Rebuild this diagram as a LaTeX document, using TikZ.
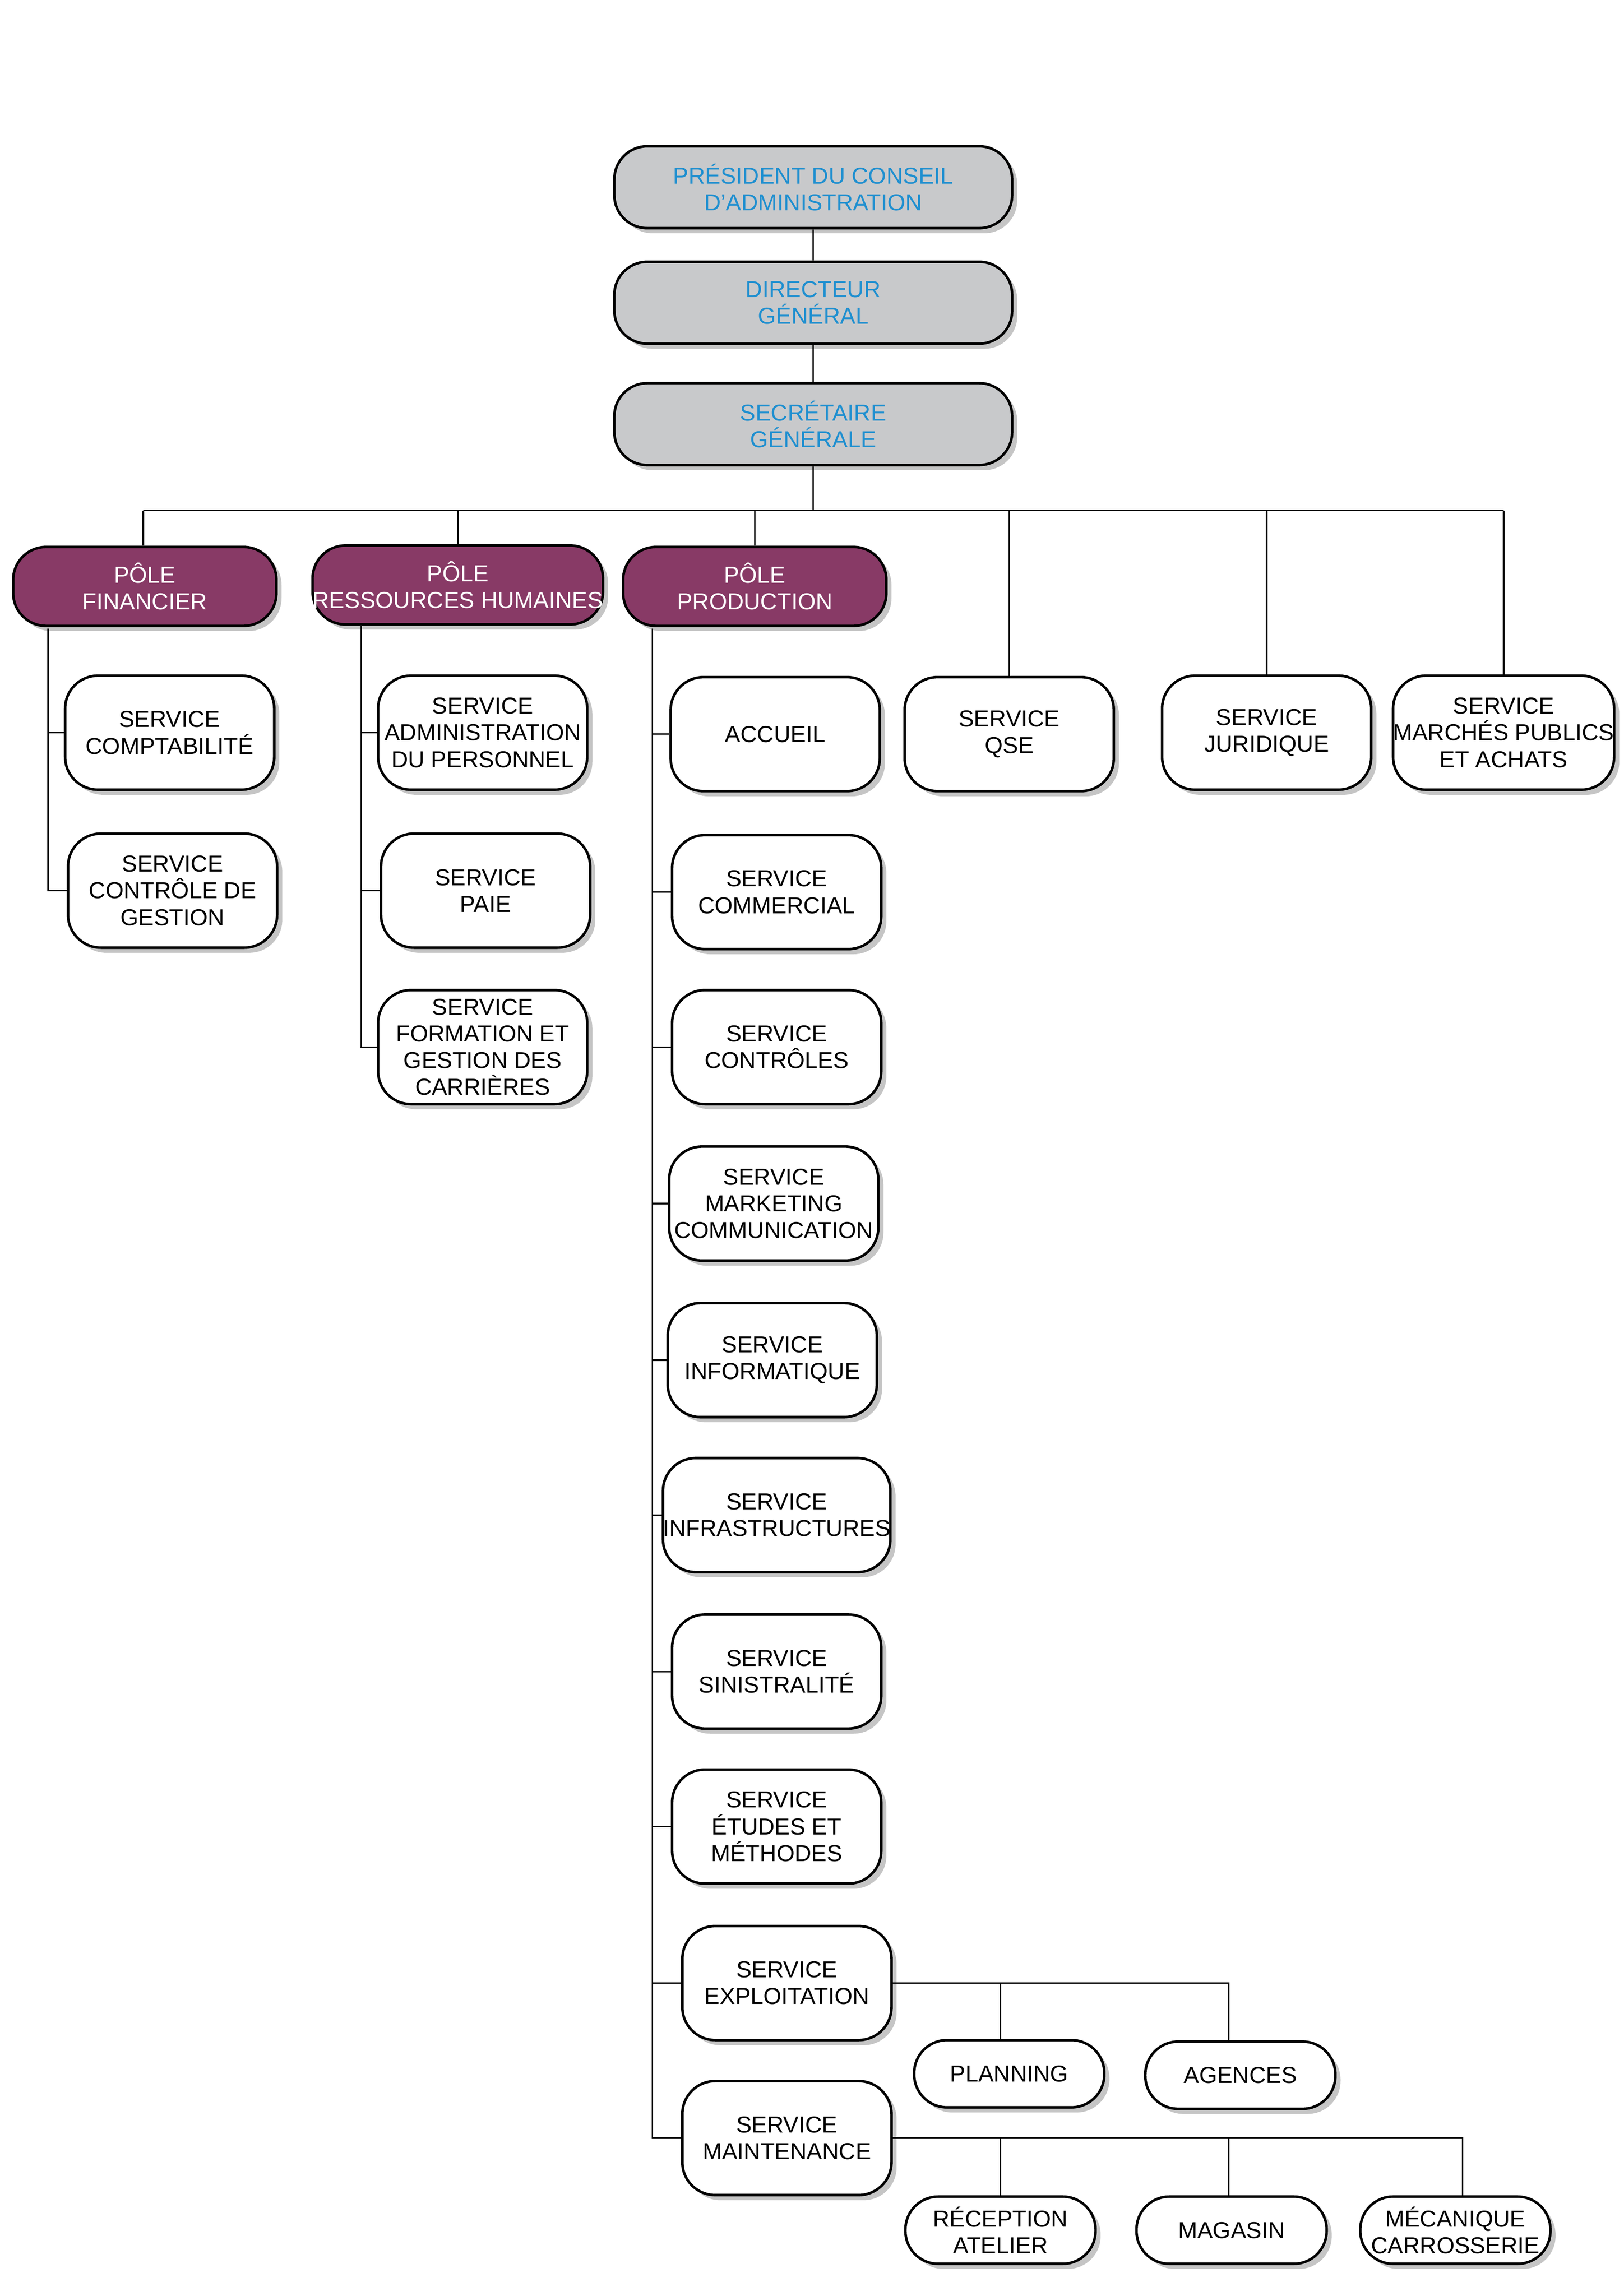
\documentclass[tikz,border=0pt]{standalone}
\usepackage{fontspec}
\setmainfont{Liberation Sans}
\usetikzlibrary{shadows}
\definecolor{poleviolet}{HTML}{883A66}
\definecolor{topblue}{HTML}{1E8FD0}
\definecolor{topgray}{HTML}{C8C9CB}
\begin{document}
\begin{tikzpicture}
    [
      x=0.02cm, y=-0.02cm,
      box/.style={draw=black, line width=1pt, rounded corners=0.45cm, align=center,
        font=\fontsize{9}{10.4}\selectfont, inner sep=0pt,
        drop shadow={shadow xshift=0.07cm, shadow yshift=-0.07cm, fill=black!45}},
      top/.style={box, fill=topgray, text=topblue, minimum width=5.44cm, minimum height=1.12cm},
      pole/.style={box, fill=poleviolet, text=white, minimum width=3.6cm, minimum height=1.08cm},
      serv/.style={box, fill=white, minimum width=2.86cm, minimum height=1.56cm},
      small/.style={box, fill=white, minimum width=2.6cm, minimum height=0.92cm},
      link/.style={line width=0.6pt}
    ]
    \useasboundingbox (0,0) rectangle (1110,1570);
    % direction
    \node [top] (pdg) at (556,128) {PRÉSIDENT DU CONSEIL\\D’ADMINISTRATION};
    \node [top] (dg) at (556,207) {DIRECTEUR\\GÉNÉRAL};
    \node [top] (sg) at (556,290) {SECRÉTAIRE\\GÉNÉRALE};
    % poles
    \node [pole] (fin) at (99,401) {PÔLE\\FINANCIER};
    \node [pole] (rh) at (313,400) {PÔLE\\RESSOURCES HUMAINES};
    \node [pole] (prod) at (516,401) {PÔLE\\PRODUCTION};
    % services rattaches
    \node [serv] (qse) at (690,502) {SERVICE\\QSE};
    \node [serv] (jur) at (866,501) {SERVICE\\JURIDIQUE};
    \node [serv] (mpa) at (1028,501) {SERVICE\\MARCHÉS PUBLICS\\ET ACHATS};
    % financier
    \node [serv] (compta) at (116,501) {SERVICE\\COMPTABILITÉ};
    \node [serv] (cdg) at (118,609) {SERVICE\\CONTRÔLE DE\\GESTION};
    % ressources humaines
    \node [serv] (adm) at (330,501) {SERVICE\\ADMINISTRATION\\DU PERSONNEL};
    \node [serv] (paie) at (332,609) {SERVICE\\PAIE};
    \node [serv] (form) at (330,716) {SERVICE\\FORMATION ET\\GESTION DES\\CARRIÈRES};
    % production
    \node [serv] (acc) at (530,502) {ACCUEIL};
    \node [serv] (com) at (531,610) {SERVICE\\COMMERCIAL};
    \node [serv] (ctl) at (531,716) {SERVICE\\CONTRÔLES};
    \node [serv] (mkt) at (529,823) {SERVICE\\MARKETING\\COMMUNICATION};
    \node [serv] (inf) at (528,930) {SERVICE\\INFORMATIQUE};
    \node [serv] (infra) at (531,1036) {SERVICE\\INFRASTRUCTURES};
    \node [serv] (sin) at (531,1143) {SERVICE\\SINISTRALITÉ};
    \node [serv] (etu) at (531,1249) {SERVICE\\ÉTUDES ET\\MÉTHODES};
    \node [serv] (exp) at (538,1356) {SERVICE\\EXPLOITATION};
    \node [serv] (mnt) at (538,1462) {SERVICE\\MAINTENANCE};
    \node [small] (plan) at (690,1418) {PLANNING};
    \node [small] (ag) at (848,1419) {AGENCES};
    \node [small] (rec) at (684,1525) {RÉCEPTION\\ATELIER};
    \node [small] (mag) at (842,1525) {MAGASIN};
    \node [small] (meca) at (995,1525) {MÉCANIQUE\\CARROSSERIE};
    % liaisons
    \coordinate (busl) at (98,349);
    \coordinate (busr) at (1028,349);
    \draw [link] (pdg) -- (dg);
    \draw [link] (dg) -- (sg);
    \draw [link] (sg) -- (sg|-busl);
    \draw [link] (busl) -- (busr);
    \foreach \n/\x in {fin/98,rh/313,prod/516,qse/690,jur/866,mpa/1028} {
        \draw [link] (\x,349) -- (\x,0|-\n.north);
    }
    \coordinate (finsp) at (33,430);
    \coordinate (rhsp) at (247,428);
    \coordinate (prodsp) at (446,430);
    \foreach \n in {compta,cdg} \draw [link] (finsp) |- (\n.west);
    \foreach \n in {adm,paie,form} \draw [link] (rhsp) |- (\n.west);
    \foreach \n in {acc,com,ctl,mkt,inf,infra,sin,etu,exp,mnt}
        \draw [link] (prodsp) |- (\n.west);
    \coordinate (expr) at (840,1356);
    \coordinate (mntr) at (1000,1462);
    \draw [link] (exp.east) -- (expr) -- (expr|-ag.north);
    \draw [link] (684,1356) -- (684,0|-plan.north);
    \draw [link] (mnt.east) -- (mntr) -- (mntr|-meca.north);
    \draw [link] (684,1462) -- (684,0|-rec.north);
    \draw [link] (840,1462) -- (840,0|-mag.north);
\end{tikzpicture}
\end{document}
